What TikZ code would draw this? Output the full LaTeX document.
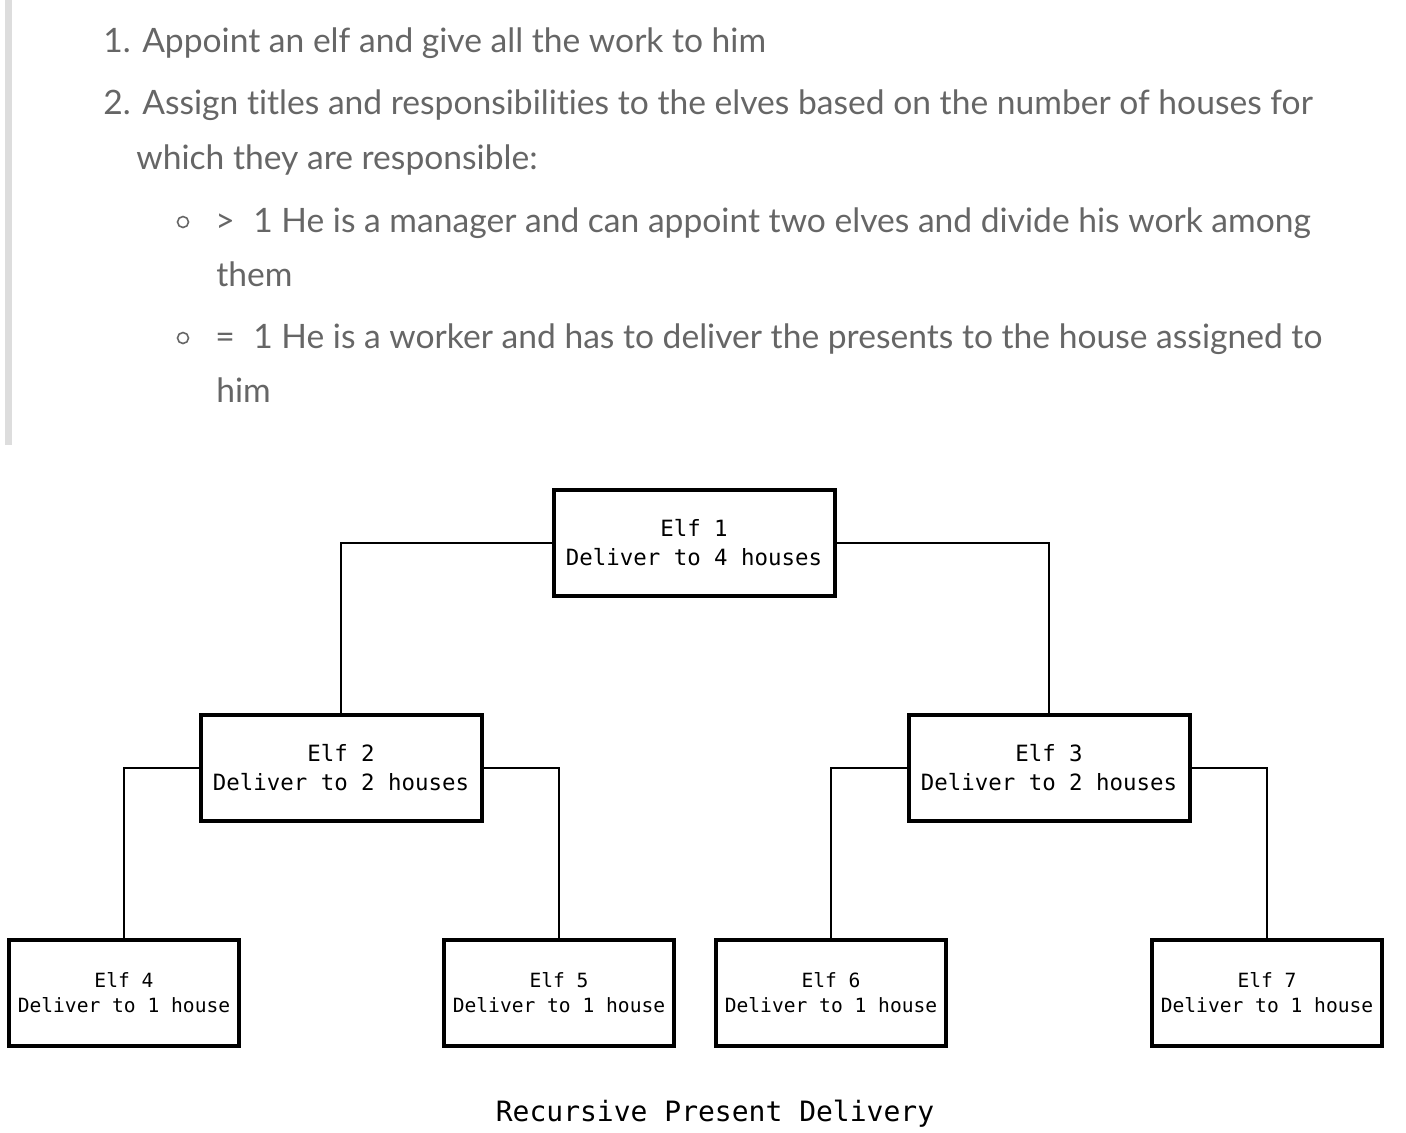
\documentclass[tikz,border=0pt]{standalone}
\usepackage{fontspec}
\setmainfont{Lato}[Ligatures=NoCommon]
\setmonofont{DejaVu Sans Mono}
\usetikzlibrary{positioning}
\definecolor{bodygray}{RGB}{102, 102, 102}
\definecolor{quotebar}{RGB}{221, 221, 221}

\begin{document}
\begin{tikzpicture}[x=0.5pt, y=-0.5pt,
  line/.style={anchor=base west, inner sep=0pt, text=bodygray, font=\fontsize{16.8}{20}\selectfont},
  elf/.style={draw=black, line width=2pt, fill=white, align=center, minimum width=140.5pt, minimum height=53pt, inner sep=0pt, font=\ttfamily\fontsize{11.2}{14.5}\selectfont},
  leaf/.style={elf, minimum width=115pt, font=\ttfamily\fontsize{9.8}{12.5}\selectfont},
  link/.style={draw=black, line width=1pt}
]
\useasboundingbox (0,0) rectangle (1406,1132);
% quoted list
\fill[quotebar] (5,0) rectangle (12,445);
\node[line] (l1) at (103,52) {1. Appoint an elf and give all the work to him};
\node[line] (l2) at (103,114) {2. Assign titles and responsibilities to the elves based on the number of houses for};
\node[line] (l3) at (136,169) {which they are responsible:};
\draw[bodygray, line width=0.8pt] (183,222) circle (5.5);
\node[line] (g1) at (215,232) {>};
\node[line] (b1) at (253,232) {1 He is a manager and can appoint two elves and divide his work among};
\node[line] (b1b) at (216,286) {them};
\draw[bodygray, line width=0.8pt] (183,338) circle (5.5);
\node[line] (g2) at (215,348) {=};
\node[line] (b2) at (253,348) {1 He is a worker and has to deliver the presents to the house assigned to};
\node[line] (b2b) at (216,402) {him};
% elf tree
\node[elf] (e1) at (694,543) {Elf 1\\Deliver to 4 houses};
\node[elf] (e2) at (341,768) {Elf 2\\Deliver to 2 houses};
\node[elf] (e3) at (1049,768) {Elf 3\\Deliver to 2 houses};
\node[leaf] (e4) at (124,993) {Elf 4\\Deliver to 1 house};
\node[leaf] (e5) at (559,993) {Elf 5\\Deliver to 1 house};
\node[leaf] (e6) at (831,993) {Elf 6\\Deliver to 1 house};
\node[leaf] (e7) at (1267,993) {Elf 7\\Deliver to 1 house};
\draw[link] (e1.west) -| (e2.north);
\draw[link] (e1.east) -| (e3.north);
\draw[link] (e2.west) -| (e4.north);
\draw[link] (e2.east) -| (e5.north);
\draw[link] (e3.west) -| (e6.north);
\draw[link] (e3.east) -| (e7.north);
\node[font=\ttfamily\fontsize{14}{17}\selectfont] (cap) at (715,1114) {Recursive Present Delivery};
\end{tikzpicture}
\end{document}
